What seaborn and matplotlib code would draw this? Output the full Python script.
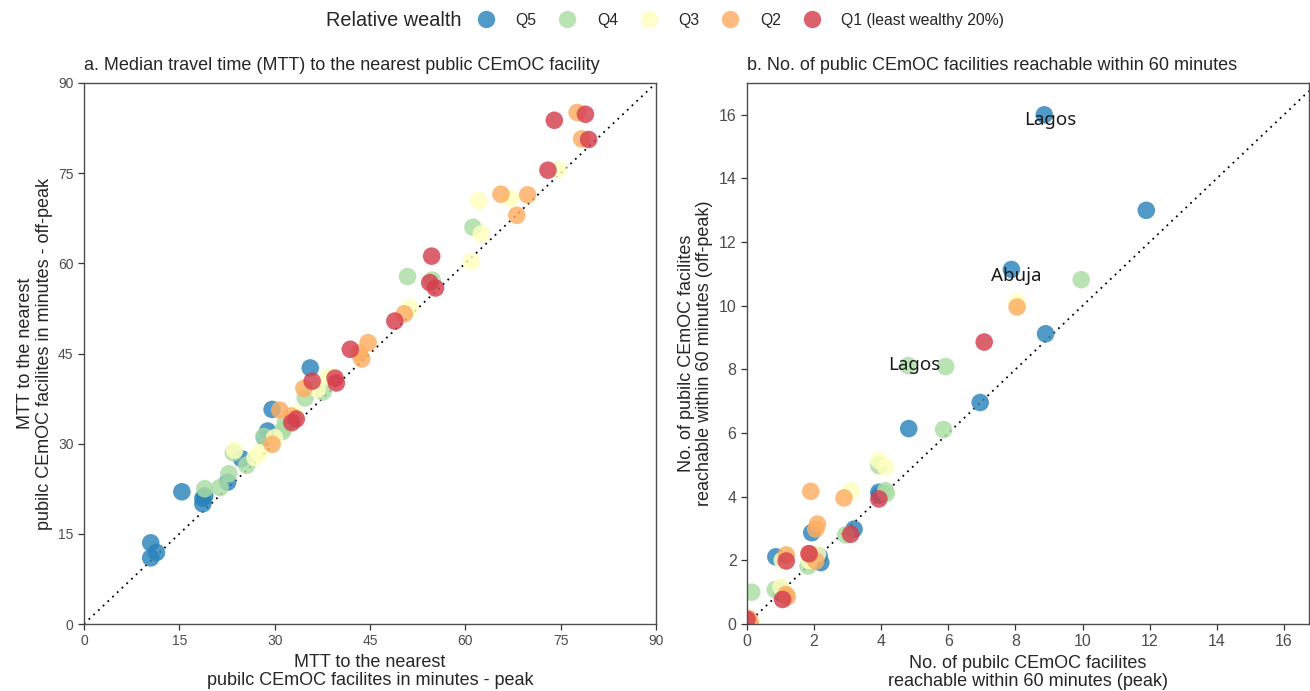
import seaborn as sns
import matplotlib.pyplot as plt
import pandas as pd
import numpy as np
from matplotlib.lines import Line2D

# wealth quintiles and colours
quintiles = ["Q5", "Q4", "Q3", "Q2", "Q1"]
quintile_labels = ["Q5", "Q4", "Q3", "Q2", "Q1 (least wealthy 20%)"]
colors = ["#2B83BA", "#ABDDA4", "#FFFFBF", "#FDAE61", "#D53E4F"]

# panel a: median travel time, peak vs off-peak (minutes)
mtt_q5_peak = [10.5, 10.5, 11.4, 15.4, 18.7, 18.7, 19.0, 22.6, 24.8, 28.9, 29.6, 35.6, 28.4]
mtt_q5_off = [13.5, 11.0, 11.9, 22.0, 20.9, 20.0, 21.3, 23.6, 27.5, 32.1, 35.7, 42.6, 31.0]
mtt_q4_peak = [19.0, 21.4, 22.8, 23.5, 25.6, 28.3, 31.5, 31.2, 34.8, 37.6, 50.9, 54.8, 61.2, 31.7]
mtt_q4_off = [22.5, 22.7, 25.0, 28.5, 26.4, 31.2, 32.6, 32.0, 37.6, 38.6, 57.8, 57.2, 66.0, 33.5]
mtt_q3_peak = [23.7, 26.9, 27.7, 30.0, 36.7, 38.4, 39.0, 51.3, 60.9, 62.1, 62.5, 67.1, 74.6, 33.2]
mtt_q3_off = [28.9, 27.7, 28.5, 31.0, 39.1, 41.1, 41.1, 52.6, 60.3, 70.4, 64.9, 70.8, 75.6, 35.0]
mtt_q2_peak = [29.6, 30.8, 32.6, 34.6, 43.3, 43.7, 44.7, 50.4, 65.6, 68.1, 69.8, 77.6, 78.3]
mtt_q2_off = [29.9, 35.6, 34.6, 39.2, 45.1, 44.1, 46.8, 51.6, 71.5, 68.0, 71.4, 85.1, 80.7]
mtt_q1_peak = [33.4, 35.9, 39.5, 39.7, 41.9, 48.9, 54.4, 55.3, 54.7, 73.0, 74.0, 78.9, 79.4, 32.7]
mtt_q1_off = [34.1, 40.4, 40.9, 40.1, 45.7, 50.4, 56.8, 55.9, 61.2, 75.5, 83.8, 84.8, 80.6, 33.5]

# panel b: number of facilities reachable within 60 minutes, peak vs off-peak
fac_q5_peak = [8.86, 11.9, 7.88, 8.9, 6.95, 4.82, 3.93, 3.95, 3.19, 1.93, 0.86, 2.15, 2.20, 1.04]
fac_q5_off = [16.0, 13.0, 11.14, 9.12, 6.96, 6.14, 4.14, 4.05, 2.98, 2.87, 2.11, 2.14, 1.93, 0.96]
fac_q4_peak = [9.96, 5.92, 4.80, 5.86, 3.93, 4.13, 4.15, 2.94, 1.82, 0.14, 0.84, 1.0]
fac_q4_off = [10.82, 8.09, 8.12, 6.11, 4.98, 4.19, 4.10, 2.80, 1.82, 1.0, 1.08, 1.12]
fac_q3_peak = [8.05, 3.93, 4.13, 3.09, 1.05, 2.1, 1.01, 1.85]
fac_q3_off = [10.12, 5.14, 4.93, 4.19, 2.0, 2.2, 1.16, 2.0]
fac_q2_peak = [8.05, 1.90, 2.89, 2.10, 2.05, 1.17, 1.85, 2.05, 1.16, 0.05, 0.1, 1.2]
fac_q2_off = [9.96, 4.17, 3.96, 3.14, 2.98, 2.17, 2.2, 1.98, 0.93, 0.17, 0.05, 0.85]
fac_q1_peak = [7.07, 3.93, 3.09, 1.17, 1.85, 1.06, 0.0]
fac_q1_off = [8.86, 3.93, 2.82, 1.98, 2.21, 0.77, 0.15]

# labelled states in panel b
label_names = ["Lagos", "Abuja", "Lagos"]
label_x = [9.03, 8.02, 4.97]
label_y = [15.85, 10.92, 8.13]


def build_frame(peaks, offs):
    parts = []
    for q, p, o in zip(quintiles, peaks, offs):
        parts.append(pd.DataFrame({"peak": p, "off": o, "wealth": q}))
    return pd.concat(parts, ignore_index=True)


mtt = build_frame([mtt_q5_peak, mtt_q4_peak, mtt_q3_peak, mtt_q2_peak, mtt_q1_peak],
                  [mtt_q5_off, mtt_q4_off, mtt_q3_off, mtt_q2_off, mtt_q1_off])
fac = build_frame([fac_q5_peak, fac_q4_peak, fac_q3_peak, fac_q2_peak, fac_q1_peak],
                  [fac_q5_off, fac_q4_off, fac_q3_off, fac_q2_off, fac_q1_off])

sns.set_style("white")
plt.rcParams["font.family"] = ["Liberation Sans", "DejaVu Sans"]
palette = dict(zip(quintiles, colors))

fig = plt.figure(figsize=(13.1, 6.91), dpi=100)
ax1 = fig.add_axes([84 / 1310, 1 - 624 / 691, 572 / 1310, 541 / 691])
ax2 = fig.add_axes([747 / 1310, 1 - 624 / 691, 562 / 1310, 541 / 691])

for ax, df, tsize in [(ax1, mtt, 10), (ax2, fac, 11.5)]:
    ax.axline((0, 0), slope=1, color="black", linestyle=(0, (1, 2.6)), linewidth=1.3, zorder=1)
    sns.scatterplot(data=df, x="peak", y="off", hue="wealth", hue_order=quintiles,
                    palette=palette, s=160, alpha=0.82, linewidth=0, legend=False, ax=ax, zorder=2)
    for sp in ax.spines.values():
        sp.set_color("#4d4d4d")
        sp.set_linewidth(1.0)
    ax.tick_params(axis="both", which="both", direction="out", length=4, width=0.9,
                   color="#333333", labelcolor="#4d4d4d", labelsize=tsize, bottom=True, left=True)

ax1.set_xlim(0, 90)
ax1.set_ylim(0, 90)
ax1.set_xticks(np.arange(0, 91, 15))
ax1.set_yticks(np.arange(0, 91, 15))
ax1.set_xlabel("MTT to the nearest\npubilc CEmOC facilites in minutes - peak", fontsize=13, linespacing=1.1)
ax1.set_ylabel("MTT to the nearest\npubilc CEmOC facilites in minutes - off-peak", fontsize=13, linespacing=1.1)
ax1.set_title("a. Median travel time (MTT) to the nearest public CEmOC facility",
              loc="left", fontsize=13, pad=9)

ax2.set_xlim(0, 16.75)
ax2.set_ylim(0, 17.0)
ax2.set_xticks(np.arange(0, 17, 2))
ax2.set_yticks(np.arange(0, 17, 2))
ax2.set_xlabel("No. of pubilc CEmOC facilites\nreachable within 60 minutes (peak)", fontsize=13, linespacing=1.1)
ax2.set_ylabel("No. of pubilc CEmOC facilites\nreachable within 60 minutes (off-peak)", fontsize=13, linespacing=1.1)
ax2.set_title("b. No. of public CEmOC facilities reachable within 60 minutes",
              loc="left", fontsize=13, pad=9)

for name, x, y in zip(label_names, label_x, label_y):
    ax2.text(x, y, name, ha="center", va="center", fontsize=13.5,
             family=["Noto Sans", "DejaVu Sans"], color="#1a1a1a", zorder=3)

# legend across the top
fig.text(326 / 1310, 1 - 20 / 691, "Relative wealth", fontsize=14.3, va="center", ha="left")
handles = [Line2D([], [], marker="o", linestyle="", markersize=12.5, markerfacecolor=c,
                  markeredgewidth=0, alpha=0.82) for c in colors]
fig.legend(handles, quintile_labels, loc="center left", bbox_to_anchor=(478 / 1310, 1 - 20 / 691),
           ncol=5, frameon=False, fontsize=11.3, handlelength=1.0, handletextpad=1.4,
           columnspacing=1.45, borderpad=0, borderaxespad=0)

fig.savefig("out.png", dpi=100)
